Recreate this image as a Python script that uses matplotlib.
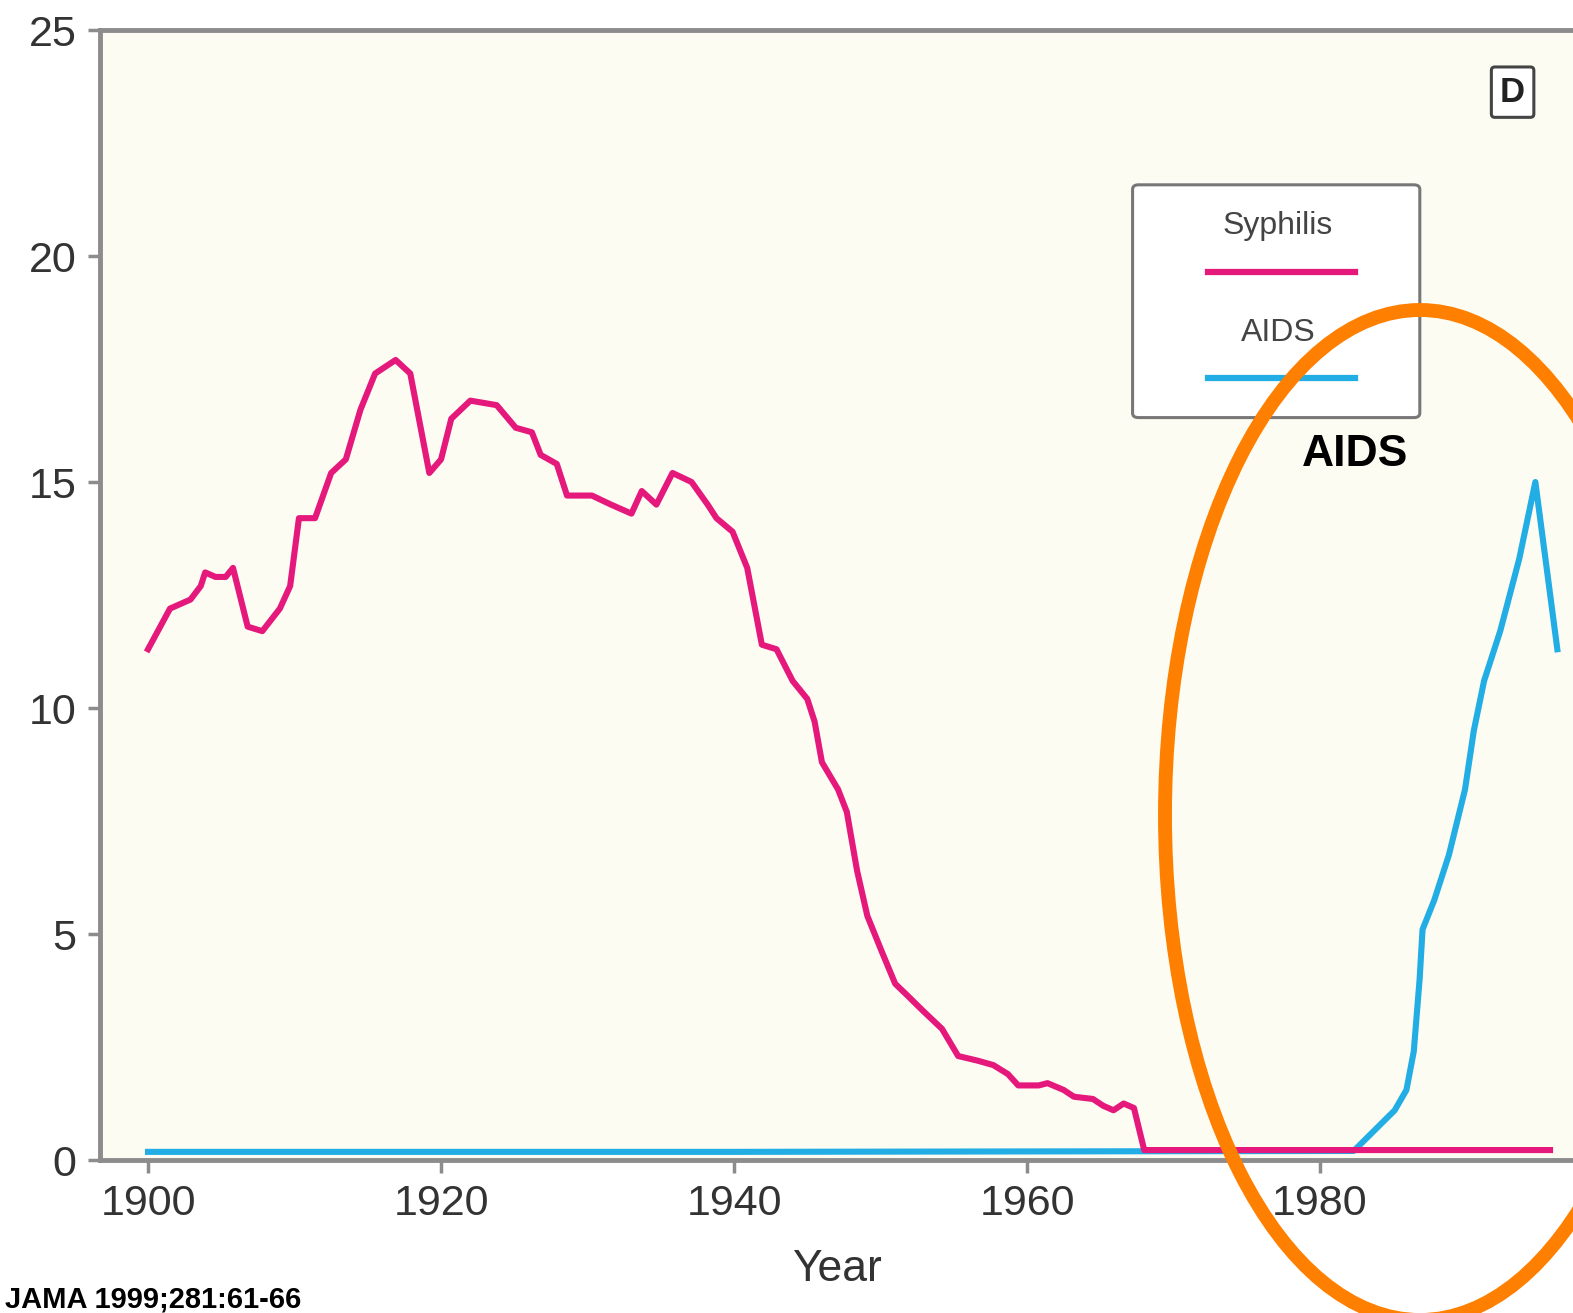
import matplotlib.pyplot as plt
from matplotlib.patches import Ellipse, FancyBboxPatch

# rates per 100,000 (panel D)
syph_years = [1900, 1901.5, 1902.9, 1903.6, 1903.9, 1904.6, 1905.3, 1905.8, 1906.8, 1907.8,
              1909.0, 1909.7, 1910.3, 1911.4, 1912.5, 1913.5, 1914.5, 1915.5, 1916.9, 1917.9,
              1919.2, 1920.0, 1920.7, 1922.0, 1923.8, 1925.1, 1926.2, 1926.8, 1927.9, 1928.6,
              1930.3, 1931.6, 1933.0, 1933.7, 1934.7, 1935.8, 1937.1, 1938.2, 1938.8, 1939.9,
              1940.9, 1941.9, 1942.9, 1944.0, 1945.0, 1945.5, 1946.0, 1947.1, 1947.7, 1948.4,
              1949.1, 1950.1, 1951.0, 1951.8, 1952.9, 1954.2, 1955.3, 1956.6, 1957.7, 1958.7,
              1959.4, 1960.8, 1961.4, 1962.5, 1963.2, 1964.5, 1965.2, 1965.9, 1966.6, 1967.3,
              1968.0, 1975, 1985, 1995.7]
syph_rate = [11.3, 12.2, 12.4, 12.7, 13.0, 12.9, 12.9, 13.1, 11.8, 11.7,
             12.2, 12.7, 14.2, 14.2, 15.2, 15.5, 16.6, 17.4, 17.7, 17.4,
             15.2, 15.5, 16.4, 16.8, 16.7, 16.2, 16.1, 15.6, 15.4, 14.7,
             14.7, 14.5, 14.3, 14.8, 14.5, 15.2, 15.0, 14.5, 14.2, 13.9,
             13.1, 11.4, 11.3, 10.6, 10.2, 9.7, 8.8, 8.2, 7.7, 6.4,
             5.4, 4.6, 3.9, 3.65, 3.3, 2.9, 2.3, 2.2, 2.1, 1.9,
             1.65, 1.65, 1.7, 1.55, 1.4, 1.35, 1.2, 1.1, 1.25, 1.15,
             0.22, 0.22, 0.22, 0.22]

aids_years = [1900, 1940, 1982.3, 1983.7, 1985.1, 1985.9, 1986.4, 1986.8, 1987.0, 1987.8,
              1988.8, 1989.9, 1990.5, 1991.2, 1992.3, 1993.6, 1994.7, 1996.2]
aids_rate = [0.18, 0.18, 0.2, 0.65, 1.1, 1.55, 2.4, 4.0, 5.1, 5.75,
             6.75, 8.2, 9.5, 10.6, 11.7, 13.3, 15.0, 11.3]

x_ticks = [1900, 1920, 1940, 1960, 1980]
y_ticks = [0, 5, 10, 15, 20, 25]

PINK = '#e5197c'
BLUE = '#22ade4'
GREY = '#8c8c8c'
TXT = '#333333'

plt.rcParams['font.family'] = ['Liberation Sans', 'DejaVu Sans']

fig = plt.figure(figsize=(15.73, 13.13), dpi=100)
ax = fig.add_axes([100 / 1573, 1 - 1160 / 1313, 1473 / 1573, 1130 / 1313])
ax.set_facecolor('#fdfcf2')

ax.plot(aids_years, aids_rate, color=BLUE, lw=4.4, solid_joinstyle='round', zorder=3)
ax.plot(syph_years, syph_rate, color=PINK, lw=4.4, solid_joinstyle='round', zorder=4)

ax.set_xlim(1896.72, 1997.27)
ax.set_ylim(0, 25)
ax.set_xticks(x_ticks)
ax.set_yticks(y_ticks)
ax.tick_params(axis='both', colors=GREY, length=9, width=2.5, labelsize=31,
               labelcolor=TXT, pad=8)
ax.spines['right'].set_visible(False)
for s in ['left', 'top', 'bottom']:
    ax.spines[s].set_color(GREY)
    ax.spines[s].set_linewidth(3.5)
ax.set_xlabel('Year', fontsize=32, color=TXT, labelpad=18)

# legend drawn by hand: labels sit above their line samples
ax.add_patch(FancyBboxPatch((0.701, 0.657), 0.195, 0.206, boxstyle='round,pad=0,rounding_size=0.004',
                            transform=ax.transAxes, facecolor='white', edgecolor='#777777',
                            lw=2.2, zorder=5))
ax.text(0.7997, 0.8265, 'Syphilis', transform=ax.transAxes, ha='center', va='center',
        fontsize=23, color='#444444', zorder=6)
ax.plot([0.752, 0.852], [0.786, 0.786], transform=ax.transAxes, color=PINK, lw=4.5, zorder=6)
ax.text(0.7997, 0.732, 'AIDS', transform=ax.transAxes, ha='center', va='center',
        fontsize=23, color='#444444', zorder=6)
ax.plot([0.752, 0.852], [0.692, 0.692], transform=ax.transAxes, color=BLUE, lw=4.5, zorder=6)

ax.text(0.959, 0.945, 'D', transform=ax.transAxes, ha='center', va='center', fontsize=25,
        fontweight='bold', color='#222222', zorder=6,
        bbox=dict(boxstyle='round,pad=0.25,rounding_size=0.1', facecolor='white',
                  edgecolor='#444444', lw=2.2))

ax.text(0.852, 0.624, 'AIDS', transform=ax.transAxes, ha='center', va='center', fontsize=32,
        fontweight='bold', color='black', zorder=7)

fig.add_artist(Ellipse((1420 / 1573, 1 - 815 / 1313), 510 / 1573, 1010 / 1313,
                       transform=fig.transFigure, fill=False, edgecolor='#ff7f00', lw=10,
                       zorder=8))

fig.text(0.003, 5 / 1313, 'JAMA 1999;281:61-66', ha='left', va='baseline', fontsize=21,
         fontweight='bold', color='black')

fig.savefig('out.png', dpi=100)
